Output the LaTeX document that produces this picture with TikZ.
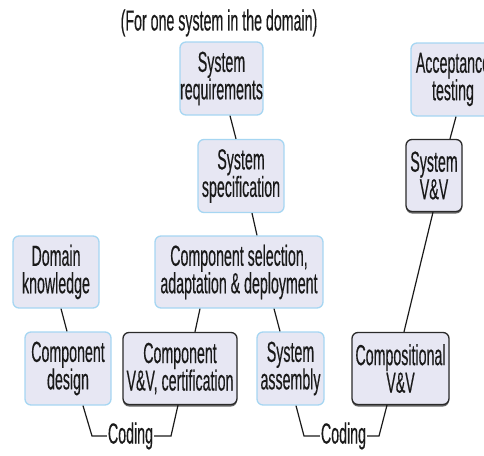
\documentclass[tikz,border=0pt]{standalone}
\usepackage{fontspec}
\setmainfont[FakeStretch=0.49,FakeBold=0.3]{Liberation Sans}
\usetikzlibrary{calc,shadows}
\definecolor{boxfill}{HTML}{E7E7F3}
\definecolor{paleedge}{HTML}{A6D6F2}
\definecolor{darkedge}{HTML}{2A2A2A}
\definecolor{inkcol}{HTML}{1A1A1A}
\begin{document}
\begin{tikzpicture}[x=1pt,y=-1pt,
  every node/.style={text=inkcol,font=\fontsize{29}{27.5}\selectfont},
  stage/.style={draw=paleedge,line width=1.3pt,fill=boxfill,rounded corners=6pt,
    align=center,inner sep=0pt,minimum height=#1},
  stage/.default=73pt,
  check/.style={draw=darkedge,line width=1.3pt,fill=boxfill,rounded corners=6pt,
    align=center,inner sep=0pt,minimum height=72pt,
    drop shadow={shadow xshift=0pt,shadow yshift=-2pt,fill=black!60,opacity=1}},
  link/.style={draw=inkcol,line width=1.2pt},
  label/.style={inner sep=1pt}]
\useasboundingbox (0,0) rectangle (484,455);
\clip (0,0) rectangle (484,455);

\node (title) at (219,23) {(For one system in the domain)};

\node[stage,minimum width=83pt] (req) at (221.5,78.5) {System\\requirements};
\node[stage,minimum width=86pt] (spec) at (241,176) {System\\specification};
\node[stage,minimum width=84pt] (acc) at (453,79.5) {Acceptance\\testing};
\node[check,minimum width=56pt] (sysvv) at (434,175.5) {System\\V\&V};
\node[stage=72pt,minimum width=86pt] (domain) at (56,272) {Domain\\knowledge};
\node[stage=72pt,minimum width=168pt] (compsel) at (239,272) {Component selection,\\adaptation \& deployment};
\node[stage,minimum width=86pt] (cdesign) at (68,368.5) {Component\\design};
\node[check,minimum width=114pt] (compvv) at (180,368.5) {Component\\V\&V, certification};
\node[stage,minimum width=67pt] (sysasm) at (290.5,368.5) {System\\assembly};
\node[check,minimum width=97pt] (compos) at (400.5,368.5) {Compositional\\V\&V};

\node[label] (code1) at (130.5,436) {Coding};
\node[label] (code2) at (343.5,436) {Coding};

\draw[link] ([xshift=8.5pt]req.south) -- ([xshift=-5pt]spec.north);
\draw[link] ([xshift=11pt]spec.south) -- ([xshift=18pt]compsel.north);
\draw[link] ([xshift=3pt]acc.south) -- ([xshift=16pt]sysvv.north);
\draw[link] ([xshift=-1pt]sysvv.south) -- ([xshift=3.5pt]compos.north);
\draw[link] ([xshift=5pt]domain.south) -- ([xshift=-1pt]cdesign.north);
\draw[link] ([xshift=-39pt]compsel.south) -- ([xshift=15pt]compvv.north);
\draw[link] ([xshift=35pt]compsel.south) -- ([xshift=-10.5pt]sysasm.north);

\draw[link] ([xshift=15pt]cdesign.south) -- ($(cdesign.south |- code1.west)+(24pt,0)$) -- (code1.west);
\draw[link] (code1.east) -- ($(compvv.south |- code1.east)+(-9pt,0)$) -- ([xshift=-2pt]compvv.south);
\draw[link] ([xshift=5.5pt]sysasm.south) -- ($(sysasm.south |- code2.west)+(13.5pt,0)$) -- (code2.west);
\draw[link] (code2.east) -- ($(compos.south |- code2.east)+(-21.5pt,0)$) -- ([xshift=-13.5pt]compos.south);
\end{tikzpicture}
\end{document}
